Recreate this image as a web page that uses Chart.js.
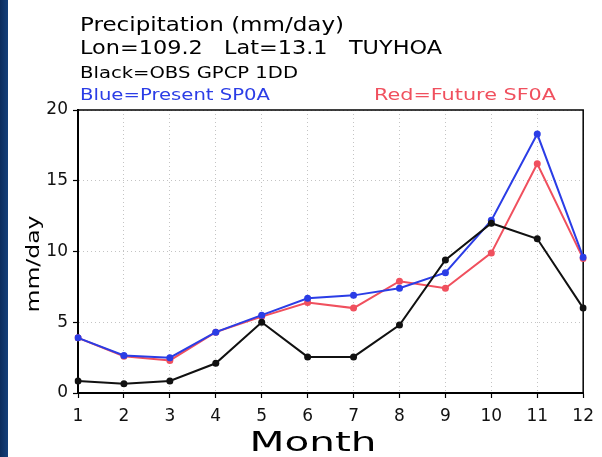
<!DOCTYPE html>
<html>
<head>
<meta charset="utf-8">
<script src="https://cdn.jsdelivr.net/npm/chart.js@4/dist/chart.umd.min.js"></script>
<style>
  html, body { margin: 0; padding: 0; }
  body {
    width: 602px; height: 457px; overflow: hidden;
    background: linear-gradient(to right, #0c2c5c 0, #15407a 8px, #ffffff 8px);
  }
  #wrap { position: relative; width: 602px; height: 457px; }
</style>
</head>
<body>
<div id="wrap"><canvas id="precip" width="602" height="457"></canvas></div>
<script>
// monthly precipitation, Tuy Hoa (mm/day)
const months = ['1', '2', '3', '4', '5', '6', '7', '8', '9', '10', '11', '12'];
const obsGpcp = [0.85, 0.65, 0.85, 2.1, 5.0, 2.55, 2.55, 4.8, 9.4, 12.0, 10.9, 6.0];
const presentSp0a = [3.9, 2.65, 2.5, 4.3, 5.5, 6.7, 6.9, 7.4, 8.5, 12.2, 18.3, 9.6];
const futureSf0a = [3.9, 2.6, 2.3, 4.3, 5.4, 6.4, 6.0, 7.9, 7.4, 9.9, 16.2, 9.5];
const yTicks = [0, 5, 10, 15, 20];

const BLUE = '#2b3de6';
const RED = '#f0505e';
const FONT = '"DejaVu Sans", "Liberation Sans", sans-serif';

// GrADS letters are wide, so stretch text to the width it has in the plot
function stretchText(ctx, txt, x, y, size, color, w, align) {
  ctx.save();
  ctx.font = size + 'px ' + FONT;
  ctx.fillStyle = color;
  ctx.textBaseline = 'alphabetic';
  ctx.textAlign = 'left';
  const nat = ctx.measureText(txt).width;
  const k = w / nat;
  let x0 = x;
  if (align === 'center') x0 = x - w / 2;
  ctx.translate(x0, y);
  ctx.scale(k, 1);
  ctx.fillText(txt, 0, 0);
  ctx.restore();
}

const labelsPlugin = {
  id: 'gradsLabels',
  beforeDatasetsDraw(chart) {
    const { ctx, chartArea: a } = chart;
    ctx.save();
    ctx.strokeStyle = '#000';
    ctx.lineWidth = 1.5;
    ctx.strokeRect(a.left, a.top, a.right - a.left, a.bottom - a.top);
    ctx.restore();
  },
  afterDraw(chart) {
    const ctx = chart.ctx;
    stretchText(ctx, 'Precipitation (mm/day)', 80, 31, 20, '#000', 264);
    stretchText(ctx, 'Lon=109.2   Lat=13.1   TUYHOA', 80, 54, 19, '#000', 362);
    stretchText(ctx, 'Black=OBS GPCP 1DD', 80, 78, 16, '#000', 218);
    stretchText(ctx, 'Blue=Present SP0A', 80, 100, 16, BLUE, 190);
    stretchText(ctx, 'Red=Future SF0A', 374, 100, 16, RED, 182);
    stretchText(ctx, 'Month', 313, 451, 27, '#000', 127, 'center');

    ctx.save();
    ctx.translate(39, 264);
    ctx.rotate(-Math.PI / 2);
    stretchText(ctx, 'mm/day', 0, 0, 17, '#000', 97, 'center');
    ctx.restore();
  }
};

new Chart(document.getElementById('precip'), {
  type: 'line',
  data: {
    labels: months,
    datasets: [
      { label: 'OBS GPCP 1DD', data: obsGpcp, borderColor: '#111', backgroundColor: '#111' },
      { label: 'Present SP0A', data: presentSp0a, borderColor: BLUE, backgroundColor: BLUE },
      { label: 'Future SF0A', data: futureSf0a, borderColor: RED, backgroundColor: RED }
    ]
  },
  options: {
    responsive: false,
    animation: false,
    devicePixelRatio: 1,
    layout: { padding: { top: 110, right: 13, left: 0, bottom: 0 } },
    elements: {
      line: { borderWidth: 2, tension: 0 },
      point: { radius: 3.5, borderWidth: 0, hoverRadius: 3.5 }
    },
    plugins: {
      legend: { display: false },
      title: { display: false },
      tooltip: { enabled: false }
    },
    scales: {
      x: {
        type: 'category',
        offset: false,
        grid: { color: '#c4c4c4', tickColor: '#000', tickLength: 5, tickWidth: 1.2 },
        border: { color: '#000', width: 2, dash: [1, 3] },
        ticks: { color: '#111', font: { family: FONT, size: 17 }, padding: 8, maxRotation: 0, autoSkip: false },
        afterFit(s) { s.height = 64; }
      },
      y: {
        min: 0,
        max: 20,
        afterBuildTicks(s) { s.ticks = yTicks.map(v => ({ value: v })); },
        grid: { color: '#c4c4c4', tickColor: '#000', tickLength: 5, tickWidth: 1.2 },
        border: { color: '#000', width: 2, dash: [1, 3] },
        ticks: { color: '#111', font: { family: FONT, size: 17 }, padding: 5 },
        afterFit(s) { s.width = 78; }
      }
    }
  },
  plugins: [labelsPlugin]
});
</script>
</body>
</html>
